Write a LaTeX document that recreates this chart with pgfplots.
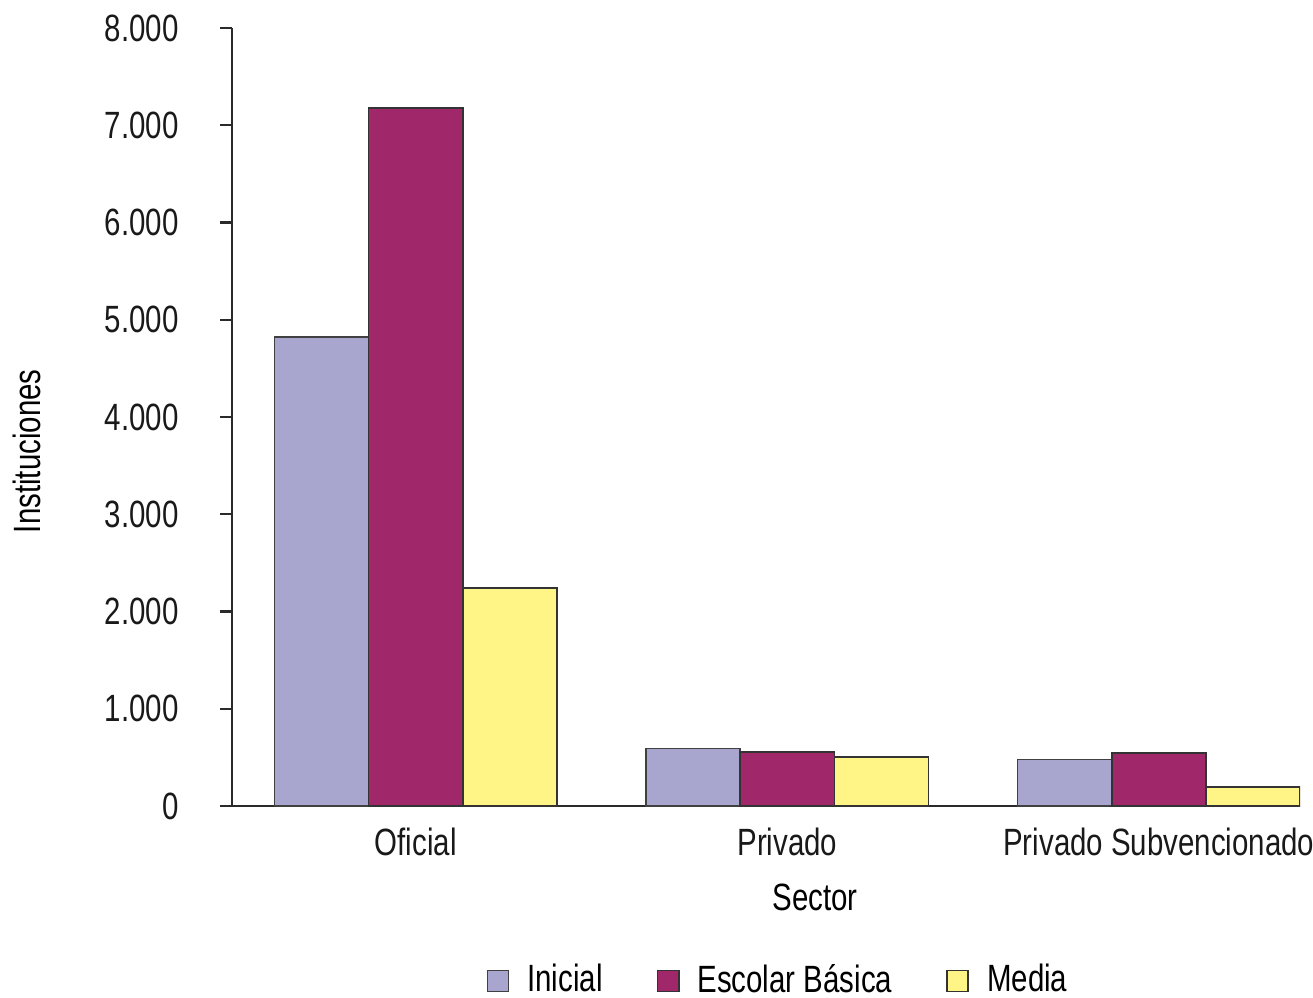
\documentclass[border=0pt]{standalone}
\usepackage{pgfplots}
\pgfplotsset{compat=1.18}
\usepackage{fontspec}
\setmainfont[FakeStretch=0.775]{Liberation Sans}
\definecolor{cIni}{HTML}{A8A5CF}
\definecolor{cEsc}{HTML}{A0286A}
\definecolor{cMed}{HTML}{FFF587}
\definecolor{axc}{HTML}{2A2A2A}
\begin{document}
\fontsize{9.5}{11}\selectfont
\begin{tikzpicture}
\path[use as bounding box] (-58pt,-47.75pt) rectangle (270.25pt,201.5pt);
\begin{axis}[
  at={(0,0)}, anchor=south west,
  scale only axis, width=267pt, height=194.5pt,
  xmin=-0.4946, xmax=2.380, ymin=0, ymax=8000,
  axis x line=bottom, axis y line=left,
  axis line style={-, draw=axc, line width=0.6pt},
  xtick={0,1,2},
  xticklabels={Oficial, Privado, Privado Subvencionado},
  xtick style={draw=none},
  ytick={0,1000,...,8000},
  tick align=outside,
  major tick length=3pt,
  ytick style={draw=axc, line width=0.6pt},
  scaled y ticks=false,
  /pgf/number format/1000 sep={.},
  /pgf/number format/assume math mode=true,
  ticklabel style={font=\fontsize{9.5}{11}\selectfont, text=black!90},
  yticklabel style={xshift=-7pt},
  xticklabel style={yshift=0.8pt},
  label style={font=\fontsize{9.5}{11}\selectfont},
  xlabel={Sector},
  ylabel={Instituciones},
  xlabel style={at={(axis description cs:0.546,-0.117)}, anchor=center},
  ylabel style={at={(axis description cs:-0.192,0.456)}, anchor=center},
  legend columns=3,
  legend style={at={(axis description cs:0.514,-0.225)}, anchor=center, draw=none, fill=none,
    font=\fontsize{9.5}{11}\selectfont,
    /tikz/every odd column/.append style={column sep=2.5pt},
    /tikz/every even column/.append style={column sep=11.5pt}},
  legend image code/.code={\draw[#1] (0pt,-2.6pt) rectangle (5.3pt,2.6pt);},
]
\addplot[ybar, bar width=0.2534, bar shift=-0.2534, fill=cIni, draw=black!75, line width=0.4pt]
  coordinates {(0,4820) (1,590) (2,480)};
\addlegendentry{Inicial}
\addplot[ybar, bar width=0.2534, bar shift=0, fill=cEsc, draw=black!80, line width=0.4pt]
  coordinates {(0,7180) (1,555) (2,545)};
\addlegendentry{Escolar Básica}
\addplot[ybar, bar width=0.2534, bar shift=0.2534, fill=cMed, draw=black!80, line width=0.4pt]
  coordinates {(0,2240) (1,505) (2,195)};
\addlegendentry{Media}
\end{axis}
\end{tikzpicture}
\end{document}
